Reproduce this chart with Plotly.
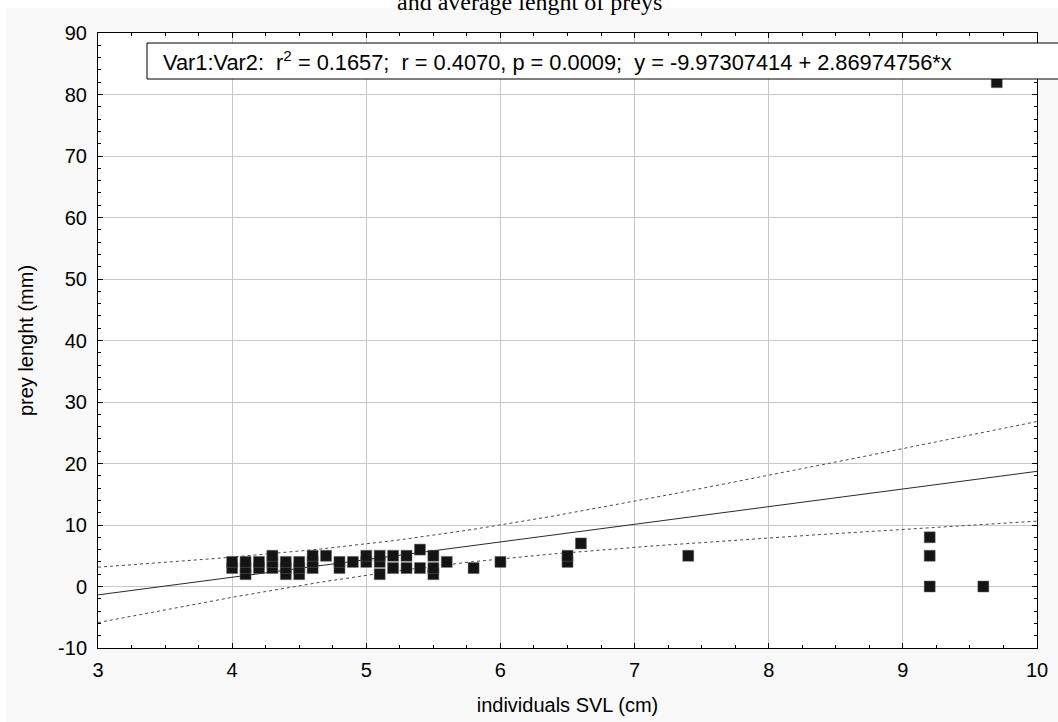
import numpy as np
import plotly.graph_objects as go

# ---- data ----
svl_cm = [4.0, 4.0, 4.1, 4.1, 4.1, 4.2, 4.2, 4.3, 4.3, 4.3, 4.4, 4.4, 4.4,
          4.5, 4.5, 4.5, 4.6, 4.6, 4.6, 4.7, 4.8, 4.8, 4.9, 5.0, 5.0,
          5.1, 5.1, 5.1, 5.2, 5.2, 5.3, 5.3, 5.4, 5.4, 5.5, 5.5, 5.5,
          5.6, 5.8, 6.0, 6.5, 6.5, 6.6, 7.4, 9.2, 9.2, 9.2, 9.6, 9.7]
prey_mm = [3, 4, 2, 3, 4, 3, 4, 3, 4, 5, 2, 3, 4,
           2, 3, 4, 3, 4, 5, 5, 3, 4, 4, 4, 5,
           2, 4, 5, 3, 5, 3, 5, 3, 6, 2, 3, 5,
           4, 3, 4, 4, 5, 7, 5, 0, 5, 8, 0, 82]

# regression statistics shown in the chart
R2 = 0.1657
R = 0.4070
P = 0.0009
INTERCEPT = -9.97307414
SLOPE = 2.86974756

# statistics used for the 95% confidence band (estimated)
N_OBS = 64
X_MEAN = 5.29
SXX = 149.0
RESID_SD = 9.98
T_CRIT = 2.0

X_RANGE = [3, 10]
Y_RANGE = [-10, 90]
x_ticks = [3, 4, 5, 6, 7, 8, 9, 10]
y_ticks = [-10, 0, 10, 20, 30, 40, 50, 60, 70, 80, 90]

# ---- derived fit lines ----
xf = np.linspace(X_RANGE[0], X_RANGE[1], 141)
yf = INTERCEPT + SLOPE * xf
half = T_CRIT * RESID_SD * np.sqrt(1.0 / N_OBS + (xf - X_MEAN) ** 2 / SXX)

fig = go.Figure()
fig.add_trace(go.Scatter(x=xf, y=yf, mode="lines",
                         line=dict(color="#2a2a2a", width=1), hoverinfo="skip"))
fig.add_trace(go.Scatter(x=xf, y=yf + half, mode="lines",
                         line=dict(color="#4a4a4a", width=1, dash="dot"), hoverinfo="skip"))
fig.add_trace(go.Scatter(x=xf, y=yf - half, mode="lines",
                         line=dict(color="#4a4a4a", width=1, dash="dot"), hoverinfo="skip"))
fig.add_trace(go.Scatter(x=svl_cm, y=prey_mm, mode="markers",
                         marker=dict(symbol="square", size=11, color="#141414",
                                     line=dict(color="#666666", width=0.5))))

W, H = 1058, 722
ML, MR, MT, MB = 98, 21, 33, 74
PW, PH = W - ML - MR, H - MT - MB


def px_x(px):
    return (px - ML) / PW


def px_y(py):
    return (H - MB - py) / PH


legend_text = ("Var1:Var2:  r<sup>2</sup> = %.4f;  r = %.4f, p = %.4f;  y = %.8f + %.8f*x"
               % (R2, R, P, INTERCEPT, SLOPE))

shapes = [
    # off-white page area
    dict(type="rect", xref="paper", yref="paper", x0=px_x(6), x1=px_x(1080),
         y0=px_y(740), y1=px_y(8), fillcolor="#f9f9f9", line=dict(width=0), layer="below"),
    # white plot area
    dict(type="rect", xref="paper", yref="paper", x0=0, x1=1, y0=0, y1=1,
         fillcolor="#ffffff", line=dict(width=0), layer="below"),
    # regression info box
    dict(type="rect", xref="paper", yref="paper", x0=px_x(147), x1=px_x(1080),
         y0=px_y(79), y1=px_y(43), fillcolor="#ffffff",
         line=dict(color="#000000", width=1), layer="above"),
]

annotations = [
    dict(text=legend_text, xref="paper", yref="paper", x=px_x(161), y=px_y(61),
         xanchor="left", yanchor="middle", showarrow=False,
         font=dict(family="Arial", size=21.8, color="#000000")),
    dict(text="and average lenght of preys", xref="paper", yref="paper",
         x=px_x(529), y=px_y(2), xanchor="center", yanchor="middle", showarrow=False,
         font=dict(family="Liberation Serif", size=24, color="#000000")),
]

axis_common = dict(
    showline=True, linecolor="#000000", linewidth=1, mirror="ticks",
    ticks="inside", ticklen=5, tickcolor="#000000", tickwidth=1,
    showgrid=True, gridcolor="#c8c8c8", gridwidth=1, zeroline=False,
    automargin=False,
    tickfont=dict(family="Arial", size=20, color="#000000"),
)

fig.update_layout(
    width=W, height=H,
    margin=dict(l=ML, r=MR, t=MT, b=MB),
    paper_bgcolor="#ffffff", plot_bgcolor="#ffffff",
    showlegend=False,
    shapes=shapes, annotations=annotations,
    xaxis=dict(range=X_RANGE, tickvals=x_ticks, ticktext=[str(v) for v in x_ticks],
               ticklabelstandoff=4,
               minor=dict(dtick=0.25, ticks="inside", ticklen=3, tickcolor="#000000", showgrid=False),
               title=dict(text="individuals SVL (cm)", standoff=17,
                          font=dict(family="Arial", size=20, color="#000000")),
               **axis_common),
    yaxis=dict(range=Y_RANGE, tickvals=y_ticks, ticktext=[str(v) for v in y_ticks],
               ticklabelstandoff=6,
               minor=dict(dtick=2, ticks="inside", ticklen=3, tickcolor="#000000", showgrid=False),
               title=dict(text="prey lenght (mm)", standoff=19,
                          font=dict(family="Arial", size=20, color="#000000")),
               **axis_common),
)

fig.write_html("out.html", config={"displayModeBar": False},
               post_script="document.body.style.margin='0';")
